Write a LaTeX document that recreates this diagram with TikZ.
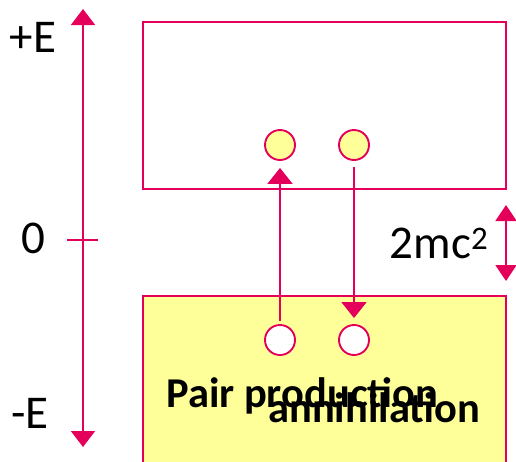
\documentclass[tikz,border=0pt]{standalone}
\usepackage{fontspec}
\setmainfont{Carlito}
\usetikzlibrary{arrows.meta}
\definecolor{crim}{RGB}{228,0,90}
\definecolor{lemon}{RGB}{255,255,153}
\tikzset{
  edge/.style={draw=crim, line width=1.4pt},
  arr/.style={crim, line width=1.9pt, -{Triangle[width=25pt,length=16pt]}},
  darr/.style={crim, line width=1.9pt, {Triangle[width=24pt,length=16pt]}-{Triangle[width=24pt,length=16pt]}},
  ball/.style={circle, draw=crim, line width=1.9pt, minimum size=30pt, inner sep=0pt},
  lbl/.style={font=\fontsize{47}{50}\selectfont, inner sep=0pt},
  blbl/.style={font=\fontsize{42.5}{45}\selectfont\bfseries, inner sep=0pt, anchor=base west},
}
\begin{document}
\begin{tikzpicture}[x=1pt,y=-1pt]
\useasboundingbox (0,0) rectangle (516,461);
\fill[lemon] (143,296) rectangle (506,470);
\draw[edge] (143,470) -- (143,296) -- (506,296) -- (506,470);
\draw[edge] (143,22) rectangle (506,189);
% axis
\coordinate (atop) at (83,9);
\coordinate (abot) at (83,447);
\draw[darr] (abot) -- (atop);
\coordinate (tl) at (67,240);
\coordinate (tr) at (98,240);
\draw[crim, line width=1.4pt] (tl) -- (tr);
\node[lbl] (pe) at (33,37) {+E};
\node[lbl] (z) at (33,238) {0};
\node[lbl] (me) at (30,413) {-E};
% circles
\node[ball, fill=lemon] (e1) at (280,145) {};
\node[ball, fill=lemon] (e2) at (354,145) {};
\node[ball, fill=white] (h1) at (280,340) {};
\node[ball, fill=white] (h2) at (354,340) {};
\draw[arr, shorten >=7pt, shorten <=3pt] (h1) -- (e1);
\draw[arr, shorten >=6pt, shorten <=6pt] (e2) -- (h2);
% gap arrow
\coordinate (gt) at (506,205);
\coordinate (gb) at (506,281);
\draw[crim, line width=1.9pt, {Triangle[width=21pt,length=16pt]}-{Triangle[width=21pt,length=16pt]}] (gb) -- (gt);
\node[lbl] (mc) at (439,243) {2mc\textsuperscript{2}};
% labels
\node[blbl] (pp) at (166,407) {Pair production};
\node[blbl] (an) at (268,422) {annihilation};
\end{tikzpicture}
\end{document}
